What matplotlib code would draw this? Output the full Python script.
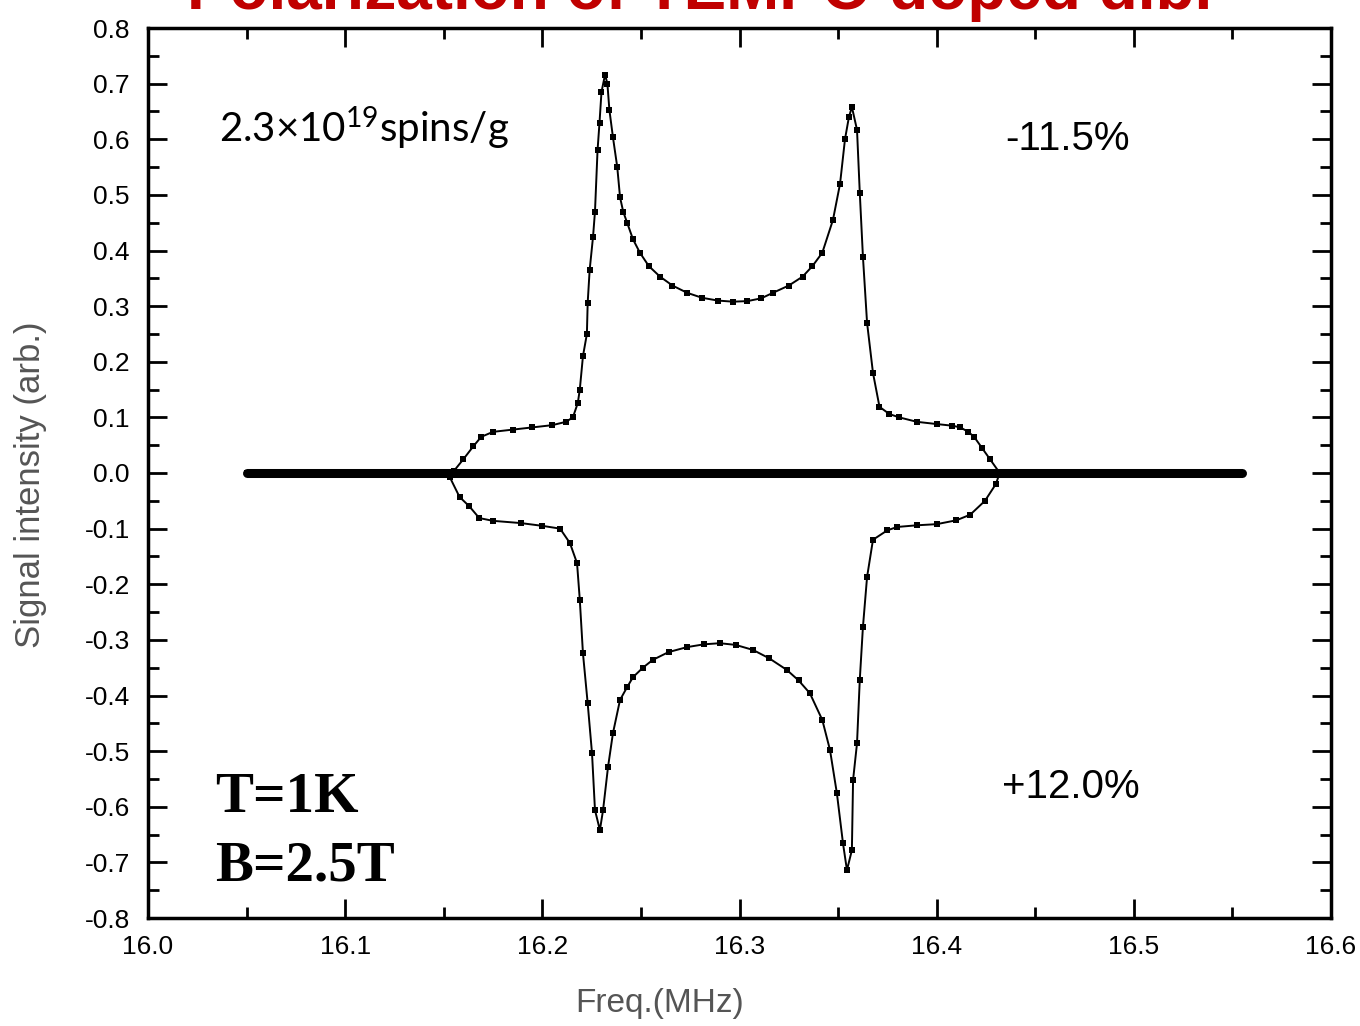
import numpy as np
import matplotlib
matplotlib.use("Agg")
import matplotlib.pyplot as plt
from matplotlib.ticker import MultipleLocator

plt.rcParams['font.family'] = ['Liberation Sans', 'DejaVu Sans']
plt.rcParams['mathtext.fontset'] = 'custom'
plt.rcParams['mathtext.rm'] = 'Lato'

# positive polarization signal (-11.5%)
pos_x = [16.05, 16.10, 16.150, 16.155, 16.160, 16.165, 16.169, 16.175, 16.185, 16.195,
         16.205, 16.212, 16.2155, 16.218, 16.219, 16.2206, 16.2226, 16.223, 16.224,
         16.2257, 16.2267, 16.228, 16.229, 16.230, 16.2318, 16.233, 16.234, 16.2358,
         16.238, 16.2394, 16.241, 16.243, 16.246, 16.2495, 16.254, 16.2597, 16.266,
         16.2734, 16.281, 16.289, 16.2967, 16.304, 16.311, 16.317, 16.325, 16.332,
         16.337, 16.342, 16.3474, 16.351, 16.3535, 16.3555, 16.357, 16.3596, 16.361,
         16.3626, 16.3647, 16.3677, 16.371, 16.376, 16.381, 16.390, 16.400, 16.408,
         16.412, 16.416, 16.419, 16.423, 16.427, 16.432, 16.45, 16.50, 16.55]
pos_y = [0.0, 0.0, 0.0, 0.003, 0.025, 0.048, 0.065, 0.074, 0.078, 0.082,
         0.086, 0.092, 0.100, 0.126, 0.150, 0.210, 0.250, 0.306, 0.365,
         0.424, 0.470, 0.580, 0.630, 0.685, 0.716, 0.700, 0.653, 0.604,
         0.550, 0.496, 0.470, 0.450, 0.420, 0.396, 0.372, 0.353, 0.337,
         0.324, 0.315, 0.310, 0.308, 0.309, 0.314, 0.324, 0.337, 0.353,
         0.372, 0.396, 0.455, 0.520, 0.600, 0.640, 0.658, 0.617, 0.504,
         0.389, 0.270, 0.180, 0.119, 0.106, 0.100, 0.092, 0.088, 0.085,
         0.082, 0.074, 0.065, 0.045, 0.025, 0.0, 0.0, 0.0, 0.0]

# negative polarization signal (+12.0%)
neg_x = [16.05, 16.10, 16.150, 16.153, 16.158, 16.163, 16.168, 16.175, 16.189, 16.200,
         16.209, 16.214, 16.2176, 16.219, 16.2206, 16.223, 16.2252, 16.2267, 16.2292,
         16.2308, 16.2333, 16.2358, 16.2394, 16.243, 16.246, 16.251, 16.256, 16.264,
         16.2734, 16.282, 16.290, 16.298, 16.3068, 16.315, 16.324, 16.330, 16.3357,
         16.342, 16.3459, 16.3494, 16.3525, 16.3545, 16.357, 16.3576, 16.3596, 16.361,
         16.3626, 16.3647, 16.3677, 16.375, 16.380, 16.390, 16.400, 16.410, 16.417,
         16.4245, 16.430, 16.432, 16.45, 16.50, 16.55]
neg_y = [0.0, 0.0, 0.0, -0.007, -0.043, -0.060, -0.081, -0.086, -0.090, -0.095,
         -0.100, -0.126, -0.162, -0.228, -0.324, -0.414, -0.504, -0.606, -0.642,
         -0.606, -0.529, -0.468, -0.408, -0.385, -0.367, -0.350, -0.336, -0.322,
         -0.313, -0.308, -0.306, -0.309, -0.318, -0.333, -0.354, -0.373, -0.396,
         -0.444, -0.498, -0.576, -0.666, -0.714, -0.678, -0.552, -0.486, -0.372,
         -0.277, -0.187, -0.120, -0.103, -0.097, -0.094, -0.092, -0.085, -0.075,
         -0.050, -0.020, 0.0, 0.0, 0.0, 0.0]

# unpolarized baseline
base_x = [16.05, 16.555]
base_y = [0.0, 0.0]

x_ticks = [16.0, 16.1, 16.2, 16.3, 16.4, 16.5, 16.6]
x_labels = ['16.0', '16.1', '16.2', '16.3', '16.4', '16.5', '16.6']
y_ticks = [0.8, 0.7, 0.6, 0.5, 0.4, 0.3, 0.2, 0.1, 0.0, -0.1, -0.2, -0.3, -0.4,
           -0.5, -0.6, -0.7, -0.8]
y_labels = ['0.8', '0.7', '0.6', '0.5', '0.4', '0.3', '0.2', '0.1', '0.0', '-0.1',
            '-0.2', '-0.3', '-0.4', '-0.5', '-0.6', '-0.7', '-0.8']

fig = plt.figure(figsize=(13.6, 10.26), dpi=100)
ax = fig.add_axes([148 / 1360, 1 - 918 / 1026, (1331 - 148) / 1360, (918 - 28) / 1026])

ax.plot(base_x, base_y, color='black', lw=6.5, solid_capstyle='round')
ax.plot(pos_x, pos_y, color='black', lw=1.4, marker='s', ms=5, mew=0)
ax.plot(neg_x, neg_y, color='black', lw=1.4, marker='s', ms=5, mew=0)

ax.set_xlim(16.0, 16.6)
ax.set_ylim(-0.8, 0.8)
ax.set_xticks(x_ticks)
ax.set_xticklabels(x_labels)
ax.set_yticks(y_ticks)
ax.set_yticklabels(y_labels)
ax.xaxis.set_minor_locator(MultipleLocator(0.05))
ax.yaxis.set_minor_locator(MultipleLocator(0.05))
ax.tick_params(which='both', direction='in', top=True, right=True, width=2, labelsize=19)
ax.tick_params(which='major', length=14)
ax.tick_params(which='minor', length=8)
ax.tick_params(axis='y', pad=13)
ax.tick_params(axis='x', pad=12)
for s in ax.spines.values():
    s.set_linewidth(2.5)

ax.set_xlabel('Freq.(MHz)', fontsize=24, color='#555555')
ax.xaxis.set_label_coords((660 - 148) / (1331 - 148), -(988 - 918) / (918 - 28))
ax.set_ylabel('Signal intensity (arb.)', fontsize=25, color='#555555')
ax.yaxis.set_label_coords(-(148 - 47) / (1331 - 148), (918 - 485) / (918 - 28))

ax.text(16.036, 0.595, r'2.3$\times$$\mathregular{10^{19}}$spins/g', fontsize=29,
        family=['Lato', 'DejaVu Sans'], va='baseline')
ax.text(16.435, 0.6, '-11.5%', fontsize=29, va='center')
ax.text(16.433, -0.565, '+12.0%', fontsize=29, va='center')
ax.text(16.034, -0.61, 'T=1K', fontsize=41, family='Liberation Serif',
        weight='bold', va='baseline')
ax.text(16.034, -0.732, 'B=2.5T', fontsize=41, family='Liberation Serif',
        weight='bold', va='baseline')

fig.text(700 / 1360, 1 - 9 / 1026, 'Polarization of TEMPO doped d.b.', color='#C00000',
         fontsize=46, weight='bold', ha='center', va='baseline')

fig.savefig('out.png', dpi=100)
